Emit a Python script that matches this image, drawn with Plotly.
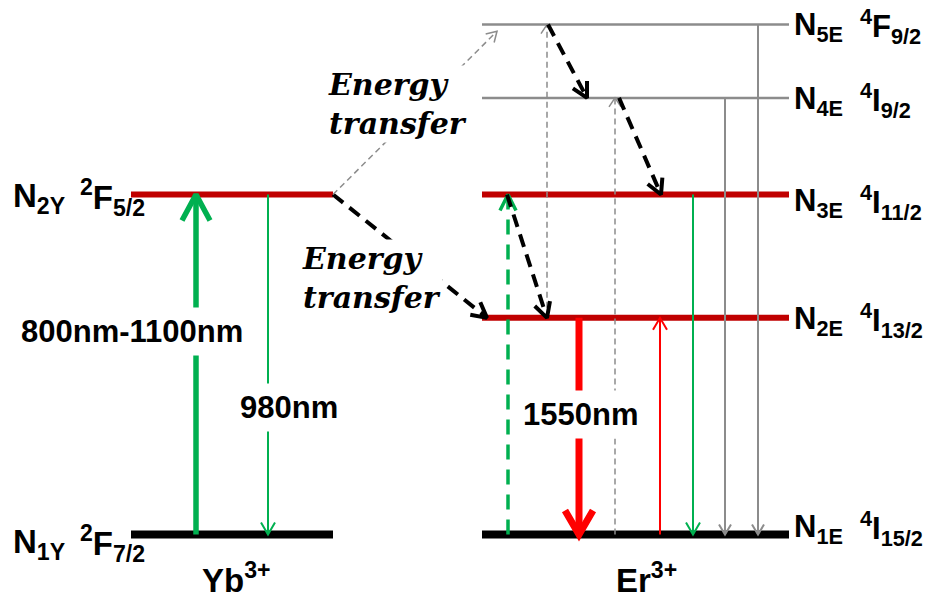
import math
import plotly.graph_objects as go

# ---------------- data (energies in 10^3 cm^-1) ----------------
yb_levels = ["N<sub>1Y</sub>", "N<sub>2Y</sub>"]
yb_terms = ["<sup>2</sup>F<sub>7/2</sub>", "<sup>2</sup>F<sub>5/2</sub>"]
yb_energy = [0.0, 10.2]

er_levels = ["N<sub>1E</sub>", "N<sub>2E</sub>", "N<sub>3E</sub>", "N<sub>4E</sub>", "N<sub>5E</sub>"]
er_terms = ["<sup>4</sup>I<sub>15/2</sub>", "<sup>4</sup>I<sub>13/2</sub>", "<sup>4</sup>I<sub>11/2</sub>",
            "<sup>4</sup>I<sub>9/2</sub>", "<sup>4</sup>F<sub>9/2</sub>"]
er_energy = [0.0, 6.5, 10.2, 13.1, 15.3]

wavelength_labels = ["800nm-1100nm", "980nm", "1550nm"]
ion_labels = ["Yb<sup>3+</sup>", "Er<sup>3+</sup>"]
transfer_label = "<b><i>Energy<br>transfer</i></b>"

# ---------------- layout helpers ----------------
W, H = 933, 599
K = 33.33          # px per energy unit
Y0 = 534.5         # pixel row of E = 0
def e2p(e):
    return Y0 - e * K
def p2e(p):
    return (Y0 - p) / K

GREEN = "#00B050"
RED = "#FF0000"
DRED = "#C00000"
GRAY = "#8C8C8C"
BLACK = "#000000"

fig = go.Figure()

yb_x = (131, 333)
er_x = (482, 789)
yb_style = [(BLACK, 8), (DRED, 6)]
er_style = [(BLACK, 8), (DRED, 6), (DRED, 6), (GRAY, 2.5), (GRAY, 2.5)]

for e, (c, w) in zip(yb_energy, yb_style):
    fig.add_trace(go.Scatter(x=list(yb_x), y=[e, e], mode="lines",
                             line=dict(color=c, width=w), hoverinfo="skip", showlegend=False))
for e, (c, w) in zip(er_energy, er_style):
    fig.add_trace(go.Scatter(x=list(er_x), y=[e, e], mode="lines",
                             line=dict(color=c, width=w), hoverinfo="skip", showlegend=False))

def arrow(x0, e0, x1, e1, color, width, dash="solid", hl=12, hw=7):
    fig.add_trace(go.Scatter(x=[x0, x1], y=[e0, e1], mode="lines",
                             line=dict(color=color, width=width, dash=dash),
                             hoverinfo="skip", showlegend=False))
    px0, py0, px1, py1 = x0, e2p(e0), x1, e2p(e1)
    dx, dy = px1 - px0, py1 - py0
    L = math.hypot(dx, dy)
    ux, uy = dx / L, dy / L
    nx, ny = -uy, ux
    wa = (px1 - hl * ux + hw * nx, py1 - hl * uy + hw * ny)
    wb = (px1 - hl * ux - hw * nx, py1 - hl * uy - hw * ny)
    fig.add_trace(go.Scatter(x=[wa[0], px1, wb[0]], y=[p2e(wa[1]), p2e(py1), p2e(wb[1])],
                             mode="lines", line=dict(color=color, width=width),
                             hoverinfo="skip", showlegend=False))

# Yb transitions
arrow(196, yb_energy[0], 196, yb_energy[1], GREEN, 5.5, hl=26, hw=14)
arrow(268, yb_energy[1], 268, yb_energy[0], GREEN, 2, hl=12, hw=7)

# Er transitions
arrow(508, er_energy[0], 508, er_energy[2], GREEN, 3.5, dash="15px,10px", hl=16, hw=8)
arrow(579, er_energy[1], 579, er_energy[0], RED, 7, hl=24, hw=14)
arrow(547, er_energy[1], 547, er_energy[4], GRAY, 1.5, dash="6px,4px", hl=9, hw=6)
arrow(615, er_energy[0], 615, er_energy[3], GRAY, 1.5, dash="6px,4px", hl=9, hw=6)
arrow(660, er_energy[0], 660, er_energy[1], RED, 2, hl=12, hw=7)
arrow(693, er_energy[2], 693, er_energy[0], GREEN, 2, hl=12, hw=7)
arrow(725, er_energy[3], 725, er_energy[0], GRAY, 2, hl=10, hw=6)
arrow(758, er_energy[4], 758, er_energy[0], GRAY, 2, hl=10, hw=6)

# energy transfer / relaxation
arrow(333, yb_energy[1], 487, er_energy[1], BLACK, 4, dash="13px,8px", hl=15, hw=8)
arrow(333, yb_energy[1], 497, er_energy[4] - 0.2, GRAY, 1.5, dash="6px,4px", hl=10, hw=6)
arrow(548, er_energy[4], 587, er_energy[3], BLACK, 4, dash="13px,8px", hl=15, hw=8)
arrow(619, er_energy[3], 661, er_energy[2], BLACK, 4, dash="13px,8px", hl=15, hw=8)
arrow(507, er_energy[2], 547, er_energy[1], BLACK, 4, dash="13px,8px", hl=15, hw=8)

SANS = "Liberation Sans, Arial, sans-serif"
ann = []
def txt(x, ypx, text, size, anchor="center", bg=None, family=SANS, weight="bold",
        align="center", pad=1):
    a = dict(x=x, y=p2e(ypx), xref="x", yref="y", text=text, showarrow=False,
             xanchor=anchor, yanchor="middle", align=align, borderpad=pad,
             font=dict(family=family, size=size, color="black", weight=weight))
    if bg:
        a["bgcolor"] = bg
    ann.append(a)

# wavelength labels
txt(132, 331, wavelength_labels[0], 31, bg="white", pad=6)
txt(289, 407, wavelength_labels[1], 31, bg="white", pad=6)
txt(580, 414, wavelength_labels[2], 31, bg="white", pad=6)

# energy transfer labels
SERIF = "DejaVu Serif, serif"
txt(326, 104, transfer_label, 30, anchor="left", bg="white", family=SERIF, align="left", pad=1)
txt(300, 278, transfer_label, 30, anchor="left", bg="white", family=SERIF, align="left", pad=1)

# level labels
yb_offsets = [9, 3]
for e, nm, tm, off in zip(yb_energy, yb_levels, yb_terms, yb_offsets):
    txt(11, e2p(e) + off, nm, 33, anchor="left")
    txt(78, e2p(e) + off, tm, 33, anchor="left")
er_offsets = [-6, 3, 8, 3, 2]
for e, nm, tm, off in zip(er_energy, er_levels, er_terms, er_offsets):
    txt(792, e2p(e) + off, nm, 31, anchor="left")
    txt(858, e2p(e) + off, tm, 31, anchor="left")

# ion labels
txt(236, 578, ion_labels[0], 33)
txt(646, 578, ion_labels[1], 33)

fig.update_layout(
    width=W, height=H, autosize=False,
    margin=dict(l=0, r=0, t=0, b=0),
    paper_bgcolor="white", plot_bgcolor="white",
    xaxis=dict(range=[0, W], visible=False, fixedrange=True),
    yaxis=dict(range=[p2e(H), p2e(0)], visible=False, fixedrange=True),
    annotations=ann,
    showlegend=False,
)
fig.write_html("out.html", config={"displayModeBar": False},
               post_script="document.body.style.margin='0';document.body.style.overflow='hidden';")
